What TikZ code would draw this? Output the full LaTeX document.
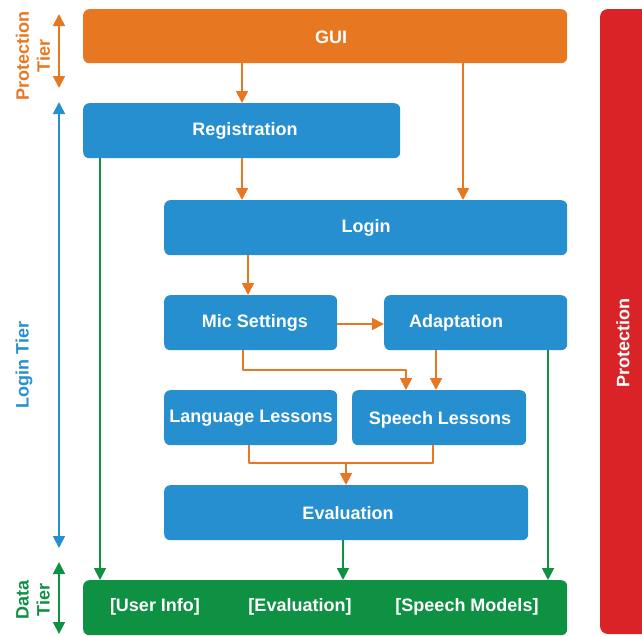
\documentclass[tikz,border=0pt]{standalone}
\usepackage{fontspec}
\setmainfont{Liberation Sans}
\usetikzlibrary{arrows.meta}
\begin{document}
\begin{tikzpicture}[x=1pt,y=-1pt,line join=round,
	box/.style={fill=tierblue,rounded corners=6pt,inner sep=0pt,anchor=north west},
	lbl/.style={text=white,font=\bfseries\fontsize{18}{21}\selectfont},
	tier/.style={font=\bfseries\fontsize{18}{21}\selectfont,rotate=90,align=center},
	flow/.style={draw=tierorange,line width=1.8pt,-{Triangle[length=12pt,width=12pt]}},
	link/.style={draw=tiergreen,line width=1.8pt,-{Triangle[length=12pt,width=12pt]}},
	span/.style={line width=1.8pt,{Triangle[length=12pt,width=12pt]}-{Triangle[length=12pt,width=12pt]}}]
	\definecolor{tierorange}{RGB}{232,119,34}
	\definecolor{tierblue}{RGB}{38,143,207}
	\definecolor{tiergreen}{RGB}{14,145,66}
	\definecolor{tierred}{RGB}{217,35,39}
	
	\useasboundingbox (0,0) rectangle (642,635);
	
	%boxes
	\node[box,fill=tierorange,minimum width=484pt,minimum height=54pt] (gui) at (83,9) {};
	\node[box,minimum width=317pt,minimum height=55pt] (reg) at (83,103) {};
	\node[box,minimum width=403pt,minimum height=55pt] (login) at (164,200) {};
	\node[box,minimum width=173pt,minimum height=55pt] (mic) at (164,295) {};
	\node[box,minimum width=183pt,minimum height=55pt] (adapt) at (384,295) {};
	\node[box,minimum width=173pt,minimum height=55pt] (lang) at (164,390) {};
	\node[box,minimum width=174pt,minimum height=55pt] (speech) at (352,390) {};
	\node[box,minimum width=364pt,minimum height=55pt] (eval) at (164,485) {};
	\node[box,fill=tiergreen,minimum width=484pt,minimum height=55pt] (data) at (83,580) {};
	
	\begin{scope}
		\clip (0,0) rectangle (642,635);
		\fill[tierred,rounded corners=8pt] (600,9) rectangle (670,634);
	\end{scope}
	
	%labels
	\node[lbl] (tgui) at (331,37) {GUI};
	\node[lbl] (treg) at (245,131) {Registration};
	\node[lbl] (tlogin) at (366,228) {Login};
	\node[lbl] (tmic) at (255,323) {Mic Settings};
	\node[lbl] (tadapt) at (456,323) {Adaptation};
	\node[lbl] (tlang) at (251,418) {Language Lessons};
	\node[lbl] (tspeech) at (440,420) {Speech Lessons};
	\node[lbl] (teval) at (348,513) {Evaluation};
	\node[lbl] (tuser) at (155,607) {[User Info]};
	\node[lbl] (tdeval) at (300,607) {[Evaluation]};
	\node[lbl] (tmodels) at (467,607) {[Speech Models]};
	\node[lbl,tier] (tprot) at (623,343) {Protection};
	
	\node[tier,text=tierorange] (ptier) at (33,56) {Protection\\Tier};
	\node[tier,text=tierblue] (ltier) at (24,365) {Login Tier};
	\node[tier,text=tiergreen] (dtier) at (33,600) {Data\\Tier};
	
	%tier spans
	\path (59,14) coordinate (p1) (59,88) coordinate (p2)
	(59,102) coordinate (l1) (59,548) coordinate (l2)
	(59,562) coordinate (d1) (59,634) coordinate (d2);
	\draw[span,tierorange] (p1)--(p2);
	\draw[span,tierblue] (l1)--(l2);
	\draw[span,tiergreen] (d1)--(d2);
	
	%orange flow
	\draw[flow] (gui.south -| 242,0)--(reg.north -| 242,0);
	\draw[flow] (gui.south -| 463,0)--(login.north -| 463,0);
	\draw[flow] (reg.south -| 242,0)--(login.north -| 242,0);
	\draw[flow] (login.south -| 248,0)--(mic.north -| 248,0);
	\draw[flow] (mic.east |- 0,324)--(adapt.west |- 0,324);
	\draw[flow] (mic.south -| 243,0)--(243,370)--(406,370)--(speech.north -| 406,0);
	\draw[flow] (adapt.south -| 436,0)--(speech.north -| 436,0);
	\draw[draw=tierorange,line width=1.8pt] (lang.south -| 249,0)--(249,463)--(433,463)--(speech.south -| 433,0);
	\draw[flow] (346,463)--(eval.north -| 346,0);
	
	%green links
	\draw[link] (reg.south -| 100,0)--(data.north -| 100,0);
	\draw[link] (eval.south -| 343,0)--(data.north -| 343,0);
	\draw[link] (adapt.south -| 548,0)--(data.north -| 548,0);
\end{tikzpicture}
\end{document}
